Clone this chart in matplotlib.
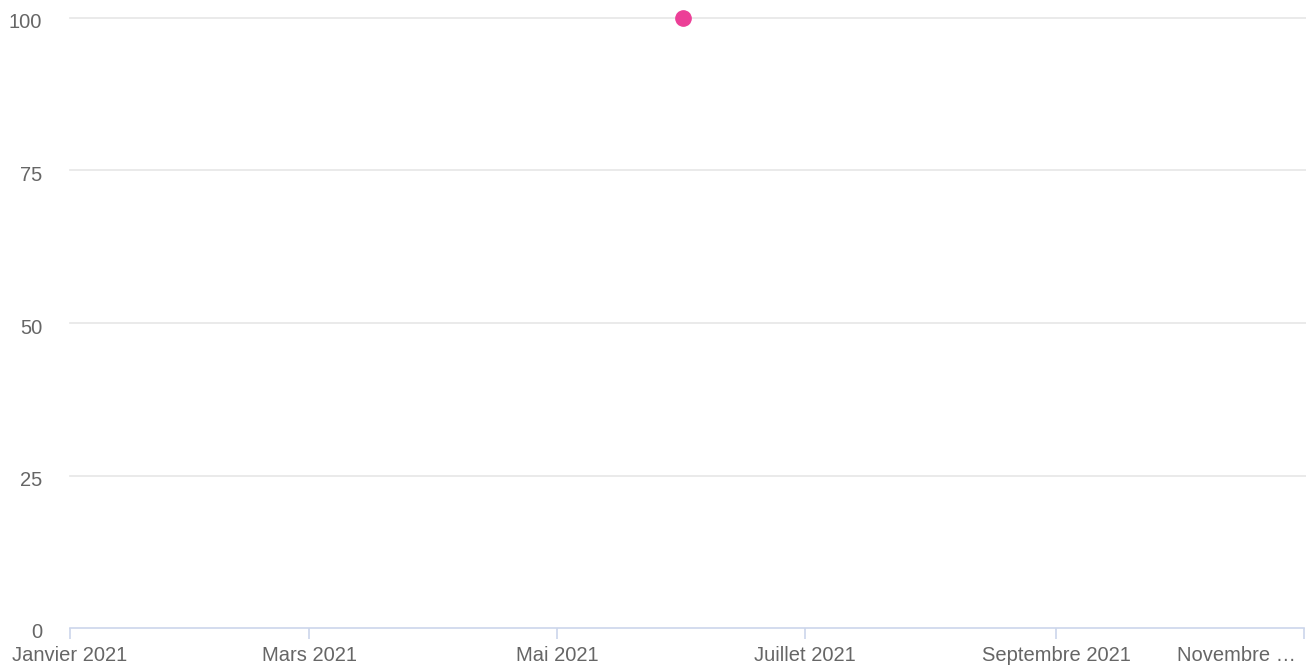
import numpy as np
import matplotlib.pyplot as plt
import matplotlib.transforms as mtransforms
from datetime import datetime

plt.rcParams['font.family'] = ['Liberation Sans', 'DejaVu Sans']

# data
dates = [datetime(2021, 6, 1)]
values = [100]
tick_dates = [datetime(2021, m, 1) for m in (1, 3, 5, 7, 9, 11)]
tick_labels = ['Janvier 2021', 'Mars 2021', 'Mai 2021', 'Juillet 2021', 'Septembre 2021', 'Novembre …']
y_ticks = [0, 25, 50, 75, 100]

fig = plt.figure(figsize=(13.06, 6.65), dpi=100)
ax = fig.add_axes([70 / 1306, 37 / 665, 1234 / 1306, 610 / 665])
ax.plot(dates, values, 'o', color='#ec3f97', markersize=11, clip_on=False, zorder=3)

ax.set_xlim(datetime(2021, 1, 1), datetime(2021, 11, 1))
ax.set_ylim(0, 100)
ax.set_yticks(y_ticks)
ax.set_xticks(tick_dates)
ax.set_xticklabels(tick_labels)
labels = ax.get_xticklabels()
labels[-1].set_ha('right')

for s in ['top', 'right', 'left']:
    ax.spines[s].set_visible(False)
ax.spines['bottom'].set_color('#ccd6eb')
ax.spines['bottom'].set_linewidth(1.2)
# gridlines run to the right edge of the figure
for y in y_ticks[1:]:
    ax.plot([0, 1306 / 1234], [y, y], color='#e6e6e6', linewidth=1.2,
            transform=ax.get_yaxis_transform(), clip_on=False, zorder=0)
ax.tick_params(axis='y', length=0, pad=20, labelsize=14.5, labelcolor='#666666')
ax.tick_params(axis='x', length=8, width=1.2, color='#ccd6eb', pad=5, labelsize=14.5, labelcolor='#666666')
shift = mtransforms.ScaledTranslation(0, -3 / 100, fig.dpi_scale_trans)
for t in ax.get_yticklabels():
    t.set_transform(t.get_transform() + shift)
last = ax.get_xticklabels()[-1]
last.set_transform(last.get_transform() + mtransforms.ScaledTranslation(-8 / 100, 0, fig.dpi_scale_trans))

plt.savefig('out.png')
